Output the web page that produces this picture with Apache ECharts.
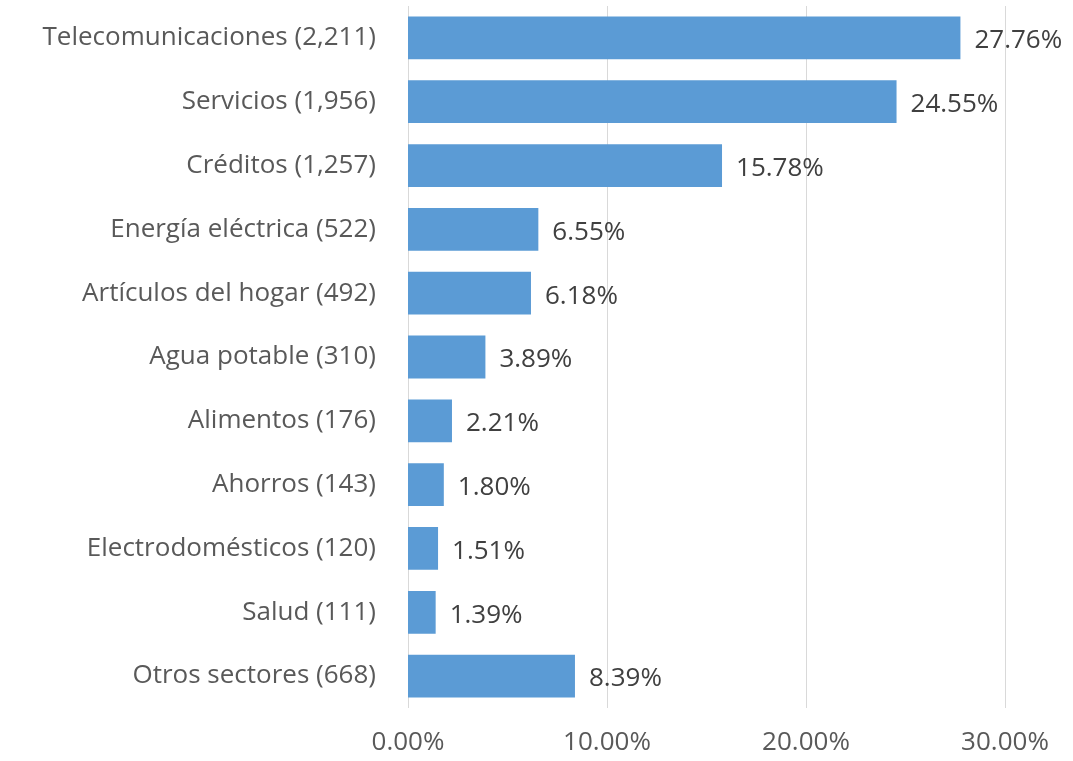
<!DOCTYPE html>
<html>
<head>
<meta charset="utf-8">
<script src="https://cdn.jsdelivr.net/npm/echarts@6/dist/echarts.min.js"></script>
<style>
  html, body { margin: 0; padding: 0; background: #fff; }
  #chart { width: 1073px; height: 761px; }
</style>
</head>
<body>
<div id="chart"></div>
<script>
// categories listed top to bottom
const categories = [
  "Telecomunicaciones (2,211)",
  "Servicios (1,956)",
  "Créditos (1,257)",
  "Energía eléctrica (522)",
  "Artículos del hogar (492)",
  "Agua potable (310)",
  "Alimentos (176)",
  "Ahorros (143)",
  "Electrodomésticos (120)",
  "Salud (111)",
  "Otros sectores (668)"
];
const shares = [27.76, 24.55, 15.78, 6.55, 6.18, 3.89, 2.21, 1.80, 1.51, 1.39, 8.39];

const axisColor = "#595959";
const labelColor = "#404040";
const font = "'Open Sans', Lato, sans-serif";

let myChart = echarts.init(document.getElementById("chart"));
let option = {
  animation: false,
  grid: { left: 408, right: 68, top: 6, bottom: 53, containLabel: false },
  xAxis: {
    type: "value",
    min: 0,
    max: 30,
    interval: 10,
    axisLine: { show: false },
    axisTick: { show: false },
    splitLine: { lineStyle: { color: "#d9d9d9", width: 1 } },
    axisLabel: {
      color: axisColor,
      fontFamily: font,
      fontSize: 26,
      margin: 22,
      formatter: v => v.toFixed(2) + "%"
    }
  },
  yAxis: {
    type: "category",
    inverse: true,
    data: categories,
    axisLine: { show: false },
    axisTick: { show: false },
    axisLabel: {
      color: axisColor,
      fontFamily: font,
      fontSize: 26,
      margin: 32
    }
  },
  series: [
    {
      type: "bar",
      data: shares,
      barCategoryGap: "33%",
      itemStyle: { color: "#5B9BD5" },
      label: {
        show: true,
        position: "right",
        distance: 14,
        offset: [0, 3],
        color: labelColor,
        fontFamily: font,
        fontSize: 26,
        formatter: p => p.value.toFixed(2) + "%"
      }
    }
  ]
};
myChart.setOption(option);
</script>
</body>
</html>
